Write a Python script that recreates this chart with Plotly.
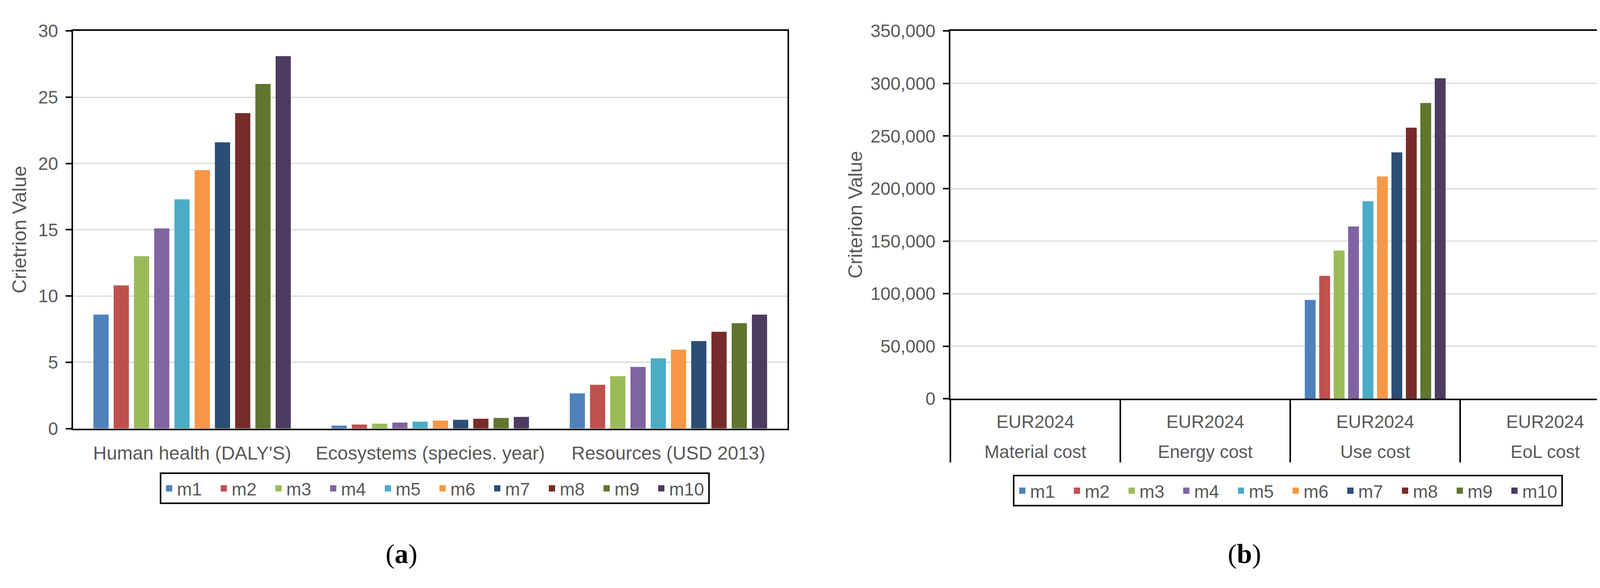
import plotly.graph_objects as go

# ---------------- data ----------------
series = ["m1", "m2", "m3", "m4", "m5", "m6", "m7", "m8", "m9", "m10"]
colors = ["#4F81BD", "#C0504D", "#9BBB59", "#8064A2", "#4BACC6",
          "#F79646", "#2C4D75", "#772C2A", "#5F7530", "#4D3B62"]

env_categories = ["Human health (DALY'S)", "Ecosystems (species. year)", "Resources (USD 2013)"]
human_health = [8.6, 10.8, 13.0, 15.1, 17.3, 19.5, 21.6, 23.8, 26.0, 28.1]
ecosystems = [0.22, 0.30, 0.37, 0.45, 0.52, 0.60, 0.66, 0.74, 0.80, 0.88]
resources = [2.65, 3.3, 3.95, 4.65, 5.3, 5.95, 6.6, 7.3, 7.95, 8.6]

cost_categories = ["Material cost", "Energy cost", "Use cost", "EoL cost"]
cost_units = ["EUR2024", "EUR2024", "EUR2024", "EUR2024"]
material_cost = [0, 0, 0, 0, 0, 0, 0, 0, 0, 0]
energy_cost = [0, 0, 0, 0, 0, 0, 0, 0, 0, 0]
use_cost = [94000, 117000, 141000, 164000, 188000, 211500, 234500, 258000, 281500, 305000]
eol_cost = [0, 0, 0, 0, 0, 0, 0, 0, 0, 0]

left_title = "Crietrion Value"
right_title = "Criterion Value"

# ---------------- figure ----------------
# the page body has an 8px default margin; size the figure so page == window
OFF = 8
W, H = 4197 - 2 * OFF, 1506 - 2 * OFF
FONT = "Liberation Sans, Arial, sans-serif"
SERIF = "Liberation Serif, Times New Roman, serif"
GREY = "#595959"


def px_x(v):
    return (v - OFF) / W


def px_y(v):
    return 1 - (v - OFF) / H


fig = go.Figure()

for i, name in enumerate(series):
    fig.add_trace(go.Bar(
        x=env_categories,
        y=[human_health[i], ecosystems[i], resources[i]],
        name=name, marker=dict(color=colors[i], line=dict(width=0)),
        xaxis="x", yaxis="y", showlegend=False,
    ))
    fig.add_trace(go.Scatter(
        x=[None], y=[None], mode="markers", name=name,
        marker=dict(symbol="square", size=16, color=colors[i]),
        xaxis="x", yaxis="y", legend="legend", hoverinfo="skip",
    ))

for i, name in enumerate(series):
    fig.add_trace(go.Bar(
        x=cost_categories,
        y=[material_cost[i], energy_cost[i], use_cost[i], eol_cost[i]],
        name=name, marker=dict(color=colors[i], line=dict(width=0)),
        xaxis="x2", yaxis="y2", showlegend=False,
    ))
    fig.add_trace(go.Scatter(
        x=[None], y=[None], mode="markers", name=name,
        marker=dict(symbol="square", size=16, color=colors[i]),
        xaxis="x2", yaxis="y2", legend="legend2", hoverinfo="skip",
    ))

axis_common = dict(showline=True, linecolor="black", linewidth=4, mirror=True)

# plot-area edges in window pixels
X1 = [187, 2016]
Y1 = [55, 1110]
X2 = [2433, 4173]
Y2 = [55, 1031]

fig.update_layout(
    width=W, height=H,
    margin=dict(l=0, r=0, t=0, b=0),
    paper_bgcolor="white", plot_bgcolor="white",
    font=dict(family=FONT, size=46, color=GREY),
    barmode="group", bargap=0.15, bargroupgap=0.25,
    xaxis=dict(
        domain=[px_x(X1[0]), px_x(X1[1])], anchor="y",
        type="category", ticks="", showgrid=False,
        categoryorder="array", categoryarray=env_categories,
        range=[-0.5, len(env_categories) - 0.5],
        tickfont=dict(size=48, color=GREY), ticklabelstandoff=18,
        **axis_common,
    ),
    yaxis=dict(
        domain=[px_y(Y1[1]), px_y(Y1[0])], anchor="x",
        range=[0, 30], dtick=5, tick0=0,
        ticks="outside", ticklen=15, tickwidth=4, tickcolor="black",
        showgrid=True, gridcolor="#d9d9d9", gridwidth=3,
        zeroline=False, ticklabelstandoff=10,
        tickfont=dict(size=46, color=GREY),
        **axis_common,
    ),
    xaxis2=dict(
        domain=[px_x(X2[0]), px_x(X2[1])], anchor="y2",
        type="category", ticks="", showgrid=False,
        categoryorder="array", categoryarray=cost_categories,
        range=[-0.5, len(cost_categories) - 0.5],
        tickmode="array", tickvals=cost_categories, ticktext=cost_units,
        tickfont=dict(size=46, color=GREY), ticklabelstandoff=16,
        **axis_common,
    ),
    yaxis2=dict(
        domain=[px_y(Y2[1]), px_y(Y2[0])], anchor="x2",
        range=[0, 350000], dtick=50000, tick0=0, tickformat=",d",
        ticks="outside", ticklen=15, tickwidth=4, tickcolor="black",
        showgrid=True, gridcolor="#d9d9d9", gridwidth=3,
        zeroline=False, ticklabelstandoff=10,
        tickfont=dict(size=46, color=GREY),
        **axis_common,
    ),
    legend=dict(
        orientation="h", x=px_x(1113), y=px_y(1227),
        xanchor="center", yanchor="top",
        bordercolor="black", borderwidth=4, bgcolor="white",
        font=dict(size=46, color=GREY), entrywidth=95, traceorder="normal",
    ),
    legend2=dict(
        orientation="h", x=px_x(3297), y=px_y(1233),
        xanchor="center", yanchor="top",
        bordercolor="black", borderwidth=4, bgcolor="white",
        font=dict(size=46, color=GREY), entrywidth=95, traceorder="normal",
    ),
)

# cost-name row under the unit labels
annotations = []
for cat in cost_categories:
    annotations.append(dict(
        text=cat, xref="x2", yref="paper", x=cat, y=px_y(1172),
        showarrow=False, xanchor="center", yanchor="middle",
        font=dict(family=FONT, size=46, color=GREY)))

annotations += [
    dict(text=left_title, xref="paper", yref="paper",
         x=px_x(50), y=px_y((Y1[0] + Y1[1]) / 2), textangle=-90, showarrow=False,
         xanchor="center", yanchor="middle",
         font=dict(family=FONT, size=50, color=GREY)),
    dict(text=right_title, xref="paper", yref="paper",
         x=px_x(2190), y=px_y((Y2[0] + Y2[1]) / 2), textangle=-90, showarrow=False,
         xanchor="center", yanchor="middle",
         font=dict(family=FONT, size=50, color=GREY)),
    dict(text="(<b>a</b>)", xref="paper", yref="paper",
         x=px_x(1028), y=px_y(1443), showarrow=False,
         xanchor="center", yanchor="middle",
         font=dict(family=SERIF, size=70, color="black")),
    dict(text="(<b>b</b>)", xref="paper", yref="paper",
         x=px_x(3186), y=px_y(1443), showarrow=False,
         xanchor="center", yanchor="middle",
         font=dict(family=SERIF, size=70, color="black")),
]
fig.update_layout(annotations=annotations)

# category dividers for the cost axis (axis decoration, in domain fractions)
n = len(cost_categories)
shapes = []
for k in range(n + 1):
    shapes.append(dict(
        type="line", xref="x2 domain", yref="paper",
        x0=k / n, x1=k / n, y0=px_y(Y2[1]), y1=px_y(1200),
        line=dict(color="black", width=4)))
fig.update_layout(shapes=shapes)

fig.write_html("out.html")
